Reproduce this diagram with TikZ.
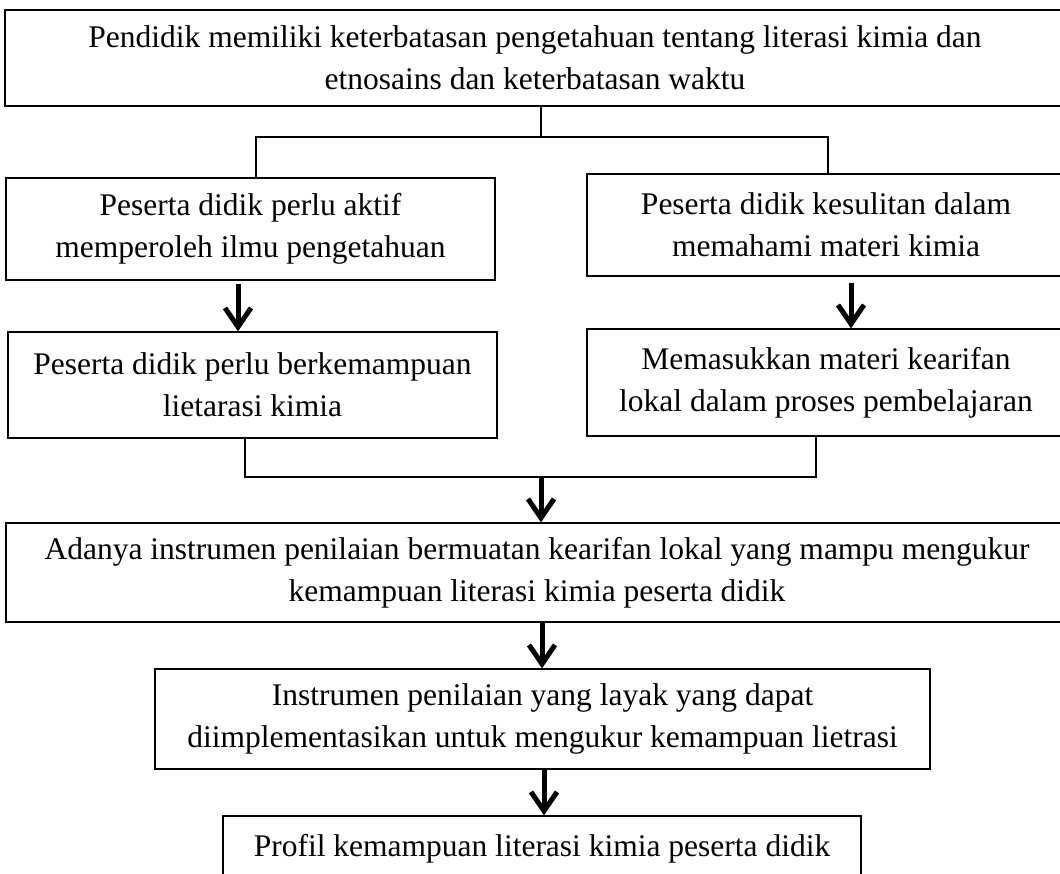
\documentclass[tikz,border=0pt]{standalone}
\usepackage{fontspec}
\setmainfont{Liberation Serif}
\usetikzlibrary{arrows.meta}
\begin{document}
\begin{tikzpicture}[x=1pt,y=1pt,
  box/.style={draw=black, line width=1.3pt, rectangle, inner sep=0pt, align=center,
    font=\fontsize{31.5}{42}\selectfont},
  thin/.style={draw=black, line width=1.3pt},
  bigarrow/.style={draw=black, line width=5pt,
    -{Straight Barb[length=19pt,width=26pt,line width=5pt]}}]
\useasboundingbox (0,0) rectangle (1060,-874);
\clip (0,0) rectangle (1060,-874);
\fill[white] (0,0) rectangle (1060,-874);

\node[box, minimum width=1060, minimum height=96] (b1) at (535,-58)
  {Pendidik memiliki keterbatasan pengetahuan tentang literasi kimia dan\\etnosains dan keterbatasan waktu};
\node[box, minimum width=489, minimum height=102] (lb1) at (250.5,-229)
  {Peserta didik perlu aktif\\memperoleh ilmu pengetahuan};
\node[box, minimum width=478, minimum height=102] (rb1) at (826,-225)
  {Peserta didik kesulitan dalam\\memahami materi kimia};
\node[box, minimum width=489, minimum height=106] (lb2) at (252.5,-385)
  {Peserta didik perlu berkemampuan\\lietarasi kimia};
\node[box, minimum width=478, minimum height=107] (rb2) at (826,-382.5)
  {Memasukkan materi kearifan\\lokal dalam proses pembelajaran};
\node[box, minimum width=1062, minimum height=99] (mb) at (537,-572.5)
  {Adanya instrumen penilaian bermuatan kearifan lokal yang mampu mengukur\\kemampuan literasi kimia peserta didik};
\node[box, minimum width=775, minimum height=100] (b4) at (542.5,-719)
  {Instrumen penilaian yang layak yang dapat\\diimplementasikan untuk mengukur kemampuan lietrasi};
\node[box, minimum width=638, minimum height=100] (b5) at (542,-866)
  {Profil kemampuan literasi kimia peserta didik\\\mbox{}};

% top split
\coordinate (t) at (541,-137);
\coordinate (xl) at (256,0);
\coordinate (xr) at (828,0);
\draw[thin] (b1.south -| t) -- (t);
\draw[thin] (lb1.north -| xl) |- (t) -| (rb1.north -| xr);

% column arrows
\coordinate (al) at (238,0);
\coordinate (ar) at (851,0);
\draw[bigarrow, shorten <=3pt] (lb1.south -| al) -- (lb2.north -| al);
\draw[bigarrow, shorten <=6pt] (rb1.south -| ar) -- (rb2.north -| ar);

% bottom merge
\coordinate (j) at (541,-477);
\coordinate (xl2) at (245,0);
\coordinate (xr2) at (816,0);
\draw[thin] (lb2.south -| xl2) |- (j) -| (rb2.south -| xr2);
\draw[bigarrow] (j) -- (mb.north -| j);

\coordinate (a4) at (542,0);
\coordinate (a5) at (544,0);
\draw[bigarrow] (mb.south -| a4) -- (b4.north -| a4);
\draw[bigarrow] (b4.south -| a5) -- (b5.north -| a5);
\end{tikzpicture}
\end{document}
